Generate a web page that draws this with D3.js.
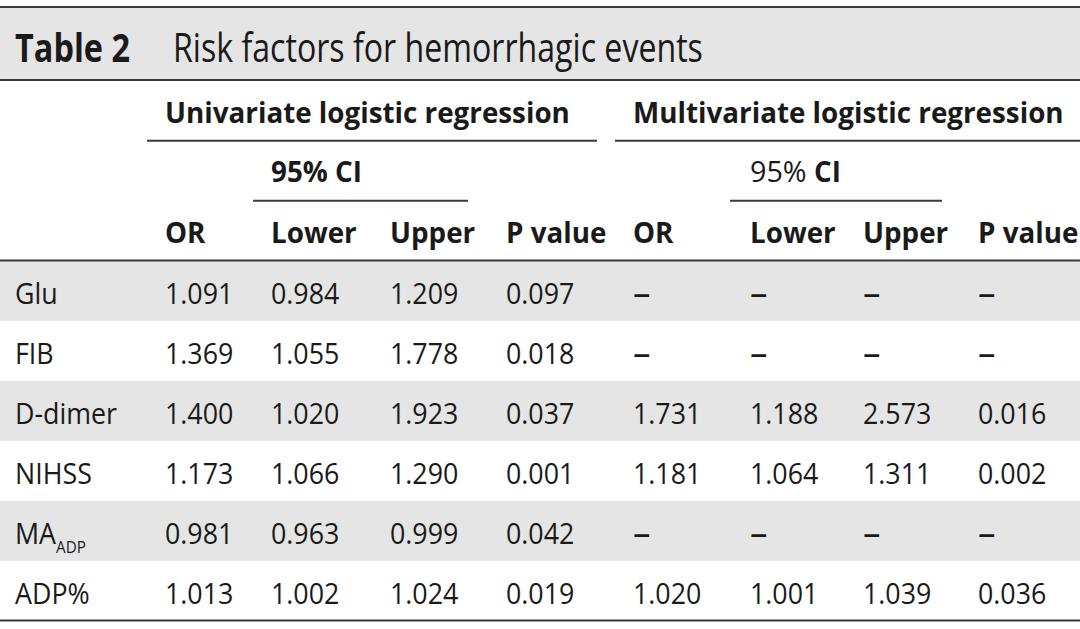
<!DOCTYPE html>
<html><head><meta charset="utf-8">
<script src="https://cdn.jsdelivr.net/npm/d3@7"></script>
<style>body{margin:0;background:#fff} svg{display:block}</style>
</head><body><svg id="c" width="1080" height="629"></svg>
<script>
// ---- data ----
const tableNumber = "Table 2";
const tableTitle = "Risk factors for hemorrhagic events";
const groupLabels = ["Univariate logistic regression", "Multivariate logistic regression"];
const ciLabel = "95%";
const ciBold = "CI";
const columnLabels = ["OR", "Lower", "Upper", "P value", "OR", "Lower", "Upper", "P value"];
const factors = ["Glu", "FIB", "D-dimer", "NIHSS", "MA", "ADP%"];
const factorSubscripts = ["", "", "", "", "ADP", ""];
const uniOR    = [1.091, 1.369, 1.400, 1.173, 0.981, 1.013];
const uniLower = [0.984, 1.055, 1.020, 1.066, 0.963, 1.002];
const uniUpper = [1.209, 1.778, 1.923, 1.290, 0.999, 1.024];
const uniP     = [0.097, 0.018, 0.037, 0.001, 0.042, 0.019];
const mulOR    = [null, null, 1.731, 1.181, null, 1.020];
const mulLower = [null, null, 1.188, 1.064, null, 1.001];
const mulUpper = [null, null, 2.573, 1.311, null, 1.039];
const mulP     = [null, null, 0.016, 0.002, null, 0.036];

// ---- layout ----
const W = 1080, H = 629;
const FONT = "'Open Sans','Noto Sans',sans-serif";
const INK = "#1a1a1a", RULE = "#3a3a3a", SHADE = "#e5e5e5";
const svg = d3.select("#c");

const colKeys = ["label", "c1", "c2", "c3", "c4", "c5", "c6", "c7", "c8"];
const x = d3.scaleOrdinal().domain(colKeys).range([15, 165, 271, 390, 506, 633, 750, 863, 978]);
const y = d3.scaleBand().domain(factors).range([261, 621]).paddingInner(0).paddingOuter(0);

const fmt = d3.format(".3f");
const DASH = "–";
const cell = v => v == null ? DASH : fmt(v);

function ratio(str, size, weight, target) {
  const t = svg.append("text").attr("font-family", FONT).attr("font-size", size)
    .attr("font-weight", weight).text(str);
  const w = t.node().getComputedTextLength();
  t.remove();
  return target / w;
}
const kTitleB = ratio(tableNumber, 40, 700, 115);
const kTitleR = ratio(tableTitle, 40, 400, 530);
const kHeadB = ratio(groupLabels[0], 29, 700, 405);
const kBody = ratio("0.036", 30, 400, 68.4);
const kDash = ratio(DASH, 30, 600, 17.5);

function txt(g, str, px, py, size, weight, k) {
  return g.append("text")
    .attr("transform", `translate(${px},${py}) scale(${k},1)`)
    .attr("font-family", FONT).attr("font-size", size).attr("font-weight", weight)
    .attr("fill", INK).text(str);
}

// title band
svg.append("rect").attr("x", 0).attr("y", 7).attr("width", W).attr("height", 73).attr("fill", SHADE);
txt(svg, tableNumber, 15, 62, 40, 700, kTitleB);
txt(svg, tableTitle, 173, 62, 40, 400, kTitleR);

// shaded rows
const shaded = factors.filter((d, i) => i % 2 === 0);
svg.selectAll("rect.row").data(shaded).join("rect").attr("class", "row")
  .attr("x", 0).attr("width", W).attr("y", d => y(d)).attr("height", y.bandwidth()).attr("fill", SHADE);

// rules
const rules = [
  {x1: 0, x2: W, y: 7},
  {x1: 0, x2: W, y: 80},
  {x1: 147, x2: 597, y: 140.7},
  {x1: 615, x2: W, y: 140.7},
  {x1: 253, x2: 468, y: 200.7},
  {x1: 730, x2: 942, y: 200.7},
  {x1: 0, x2: W, y: 260.5},
  {x1: 0, x2: W, y: 620.5}
];
svg.selectAll("line.rule").data(rules).join("line").attr("class", "rule")
  .attr("x1", d => d.x1).attr("x2", d => d.x2).attr("y1", d => d.y).attr("y2", d => d.y)
  .attr("stroke", RULE).attr("stroke-width", 2);

// group headers
txt(svg, groupLabels[0], x("c1"), 122.5, 29, 700, kHeadB);
txt(svg, groupLabels[1], x("c5"), 122.5, 29, 700, kHeadB);

// 95% CI
txt(svg, ciLabel + " " + ciBold, x("c2"), 181.5, 29, 700, kHeadB);
const ci2 = svg.append("text")
  .attr("transform", `translate(${x("c6")},181.5) scale(${kHeadB},1)`)
  .attr("font-family", FONT).attr("font-size", 29).attr("fill", INK);
ci2.append("tspan").attr("font-weight", 400).attr("font-size", 30).text(ciLabel + " ");
ci2.append("tspan").attr("font-weight", 700).text(ciBold);

// column labels
columnLabels.forEach((c, i) => txt(svg, c, x(colKeys[i + 1]), 243.2, 29, 700, kHeadB));

// body rows
const cols = [uniOR, uniLower, uniUpper, uniP, mulOR, mulLower, mulUpper, mulP];
factors.forEach((f, i) => {
  const by = y(f) + 42.5;
  const t = svg.append("text")
    .attr("transform", `translate(${x("label")},${by}) scale(${kBody},1)`)
    .attr("font-family", FONT).attr("font-size", 30).attr("fill", INK);
  t.append("tspan").text(f);
  if (factorSubscripts[i]) {
    t.append("tspan").attr("font-size", 17).attr("dy", 9).text(factorSubscripts[i]);
  }
  cols.forEach((arr, j) => {
    const v = arr[i];
    if (v == null) txt(svg, DASH, x(colKeys[j + 1]), by, 30, 600, kDash);
    else txt(svg, cell(v), x(colKeys[j + 1]), by, 30, 400, kBody);
  });
});
</script></body></html>
